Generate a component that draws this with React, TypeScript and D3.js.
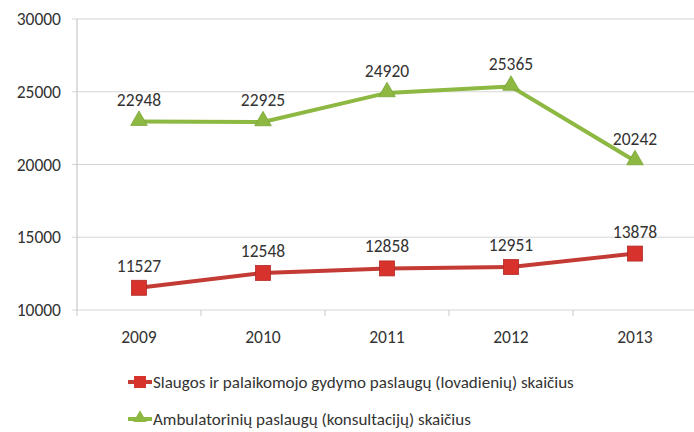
import * as d3 from "d3";

const years = ["2009", "2010", "2011", "2012", "2013"];
const slaugos = [11527, 12548, 12858, 12951, 13878];
const ambulatoriniu = [22948, 22925, 24920, 25365, 20242];
const yTicks = [10000, 15000, 20000, 25000, 30000];
const seriesNames = [
  "Slaugos ir palaikomojo gydymo paslaugų (lovadienių) skaičius",
  "Ambulatorinių paslaugų (konsultacijų) skaičius",
];

const width = 694;
const height = 432;
const marginLeft = 77;
const marginRight = -3;
const marginTop = 19;
const plotBottom = 310;

const font = "Carlito, 'Liberation Sans Narrow', 'Open Sans', sans-serif";
const fs = 17.5;
const red = "#c33b34";
const green = "#8db842";

export default function App() {
  const x = d3.scaleBand(years, [marginLeft, width - marginRight]);
  const y = d3.scaleLinear([10000, 30000], [plotBottom, marginTop]);
  const cx = (i: number) => x(years[i])! + x.bandwidth() / 2;

  const line = d3.line<number>()
    .x((_, i) => cx(i))
    .y(d => y(d));

  const tri = d3.symbol(d3.symbolTriangle, 120)();

  return (
    <svg width={width} height={height} style={{ position: "absolute", left: 0, top: 0, background: "#fff" }}>
      {yTicks.map(t => (
        <g key={t}>
          <line x1={72} x2={width} y1={y(t)} y2={y(t)} stroke="#d6d6d6" strokeWidth={1.2} />
          <text x={61} y={y(t) + 6} textAnchor="end" fontFamily={font} fontSize={fs} fill="#333">{t}</text>
        </g>
      ))}
      <line x1={marginLeft} x2={marginLeft} y1={marginTop} y2={plotBottom} stroke="#c8c8c8" strokeWidth={1.2} />
      {years.map((yr, i) => (
        <g key={yr}>
          <line x1={x(yr)! + x.bandwidth()} x2={x(yr)! + x.bandwidth()} y1={plotBottom} y2={plotBottom + 6} stroke="#c8c8c8" />
          <text x={cx(i)} y={plotBottom + 33} textAnchor="middle" fontFamily={font} fontSize={fs} fill="#333">{yr}</text>
        </g>
      ))}
      <line x1={marginLeft} x2={marginLeft} y1={plotBottom} y2={plotBottom + 6} stroke="#c8c8c8" />

      <path d={line(ambulatoriniu)!} fill="none" stroke={green} strokeWidth={4} />
      <path d={line(slaugos)!} fill="none" stroke={red} strokeWidth={4} />

      {ambulatoriniu.map((v, i) => (
        <g key={i}>
          <path d={tri} transform={`translate(${cx(i)},${y(v) - 1})`} fill={green} stroke="#7aa536" strokeWidth={0.8} />
          <text x={cx(i)} y={y(v) - 16} textAnchor="middle" fontFamily={font} fontSize={fs} fill="#333">{v}</text>
        </g>
      ))}
      {slaugos.map((v, i) => (
        <g key={i}>
          <rect x={cx(i) - 7.5} y={y(v) - 7.5} width={15} height={15} fill="#d8322c" stroke="#b22a25" strokeWidth={0.8} />
          <text x={cx(i)} y={y(v) - 16} textAnchor="middle" fontFamily={font} fontSize={fs} fill="#333">{v}</text>
        </g>
      ))}

      <g>
        <line x1={128} x2={152} y1={382} y2={382} stroke={red} strokeWidth={4} />
        <rect x={134} y={376} width={12} height={12} fill="#d8322c" />
        <text x={153} y={388} fontFamily={font} fontSize={17} fill="#333">{seriesNames[0]}</text>
        <line x1={128} x2={152} y1={419} y2={419} stroke={green} strokeWidth={4} />
        <path d={d3.symbol(d3.symbolTriangle, 80)()!} transform="translate(140,418)" fill={green} />
        <text x={153} y={425} fontFamily={font} fontSize={17} fill="#333">{seriesNames[1]}</text>
      </g>
    </svg>
  );
}
